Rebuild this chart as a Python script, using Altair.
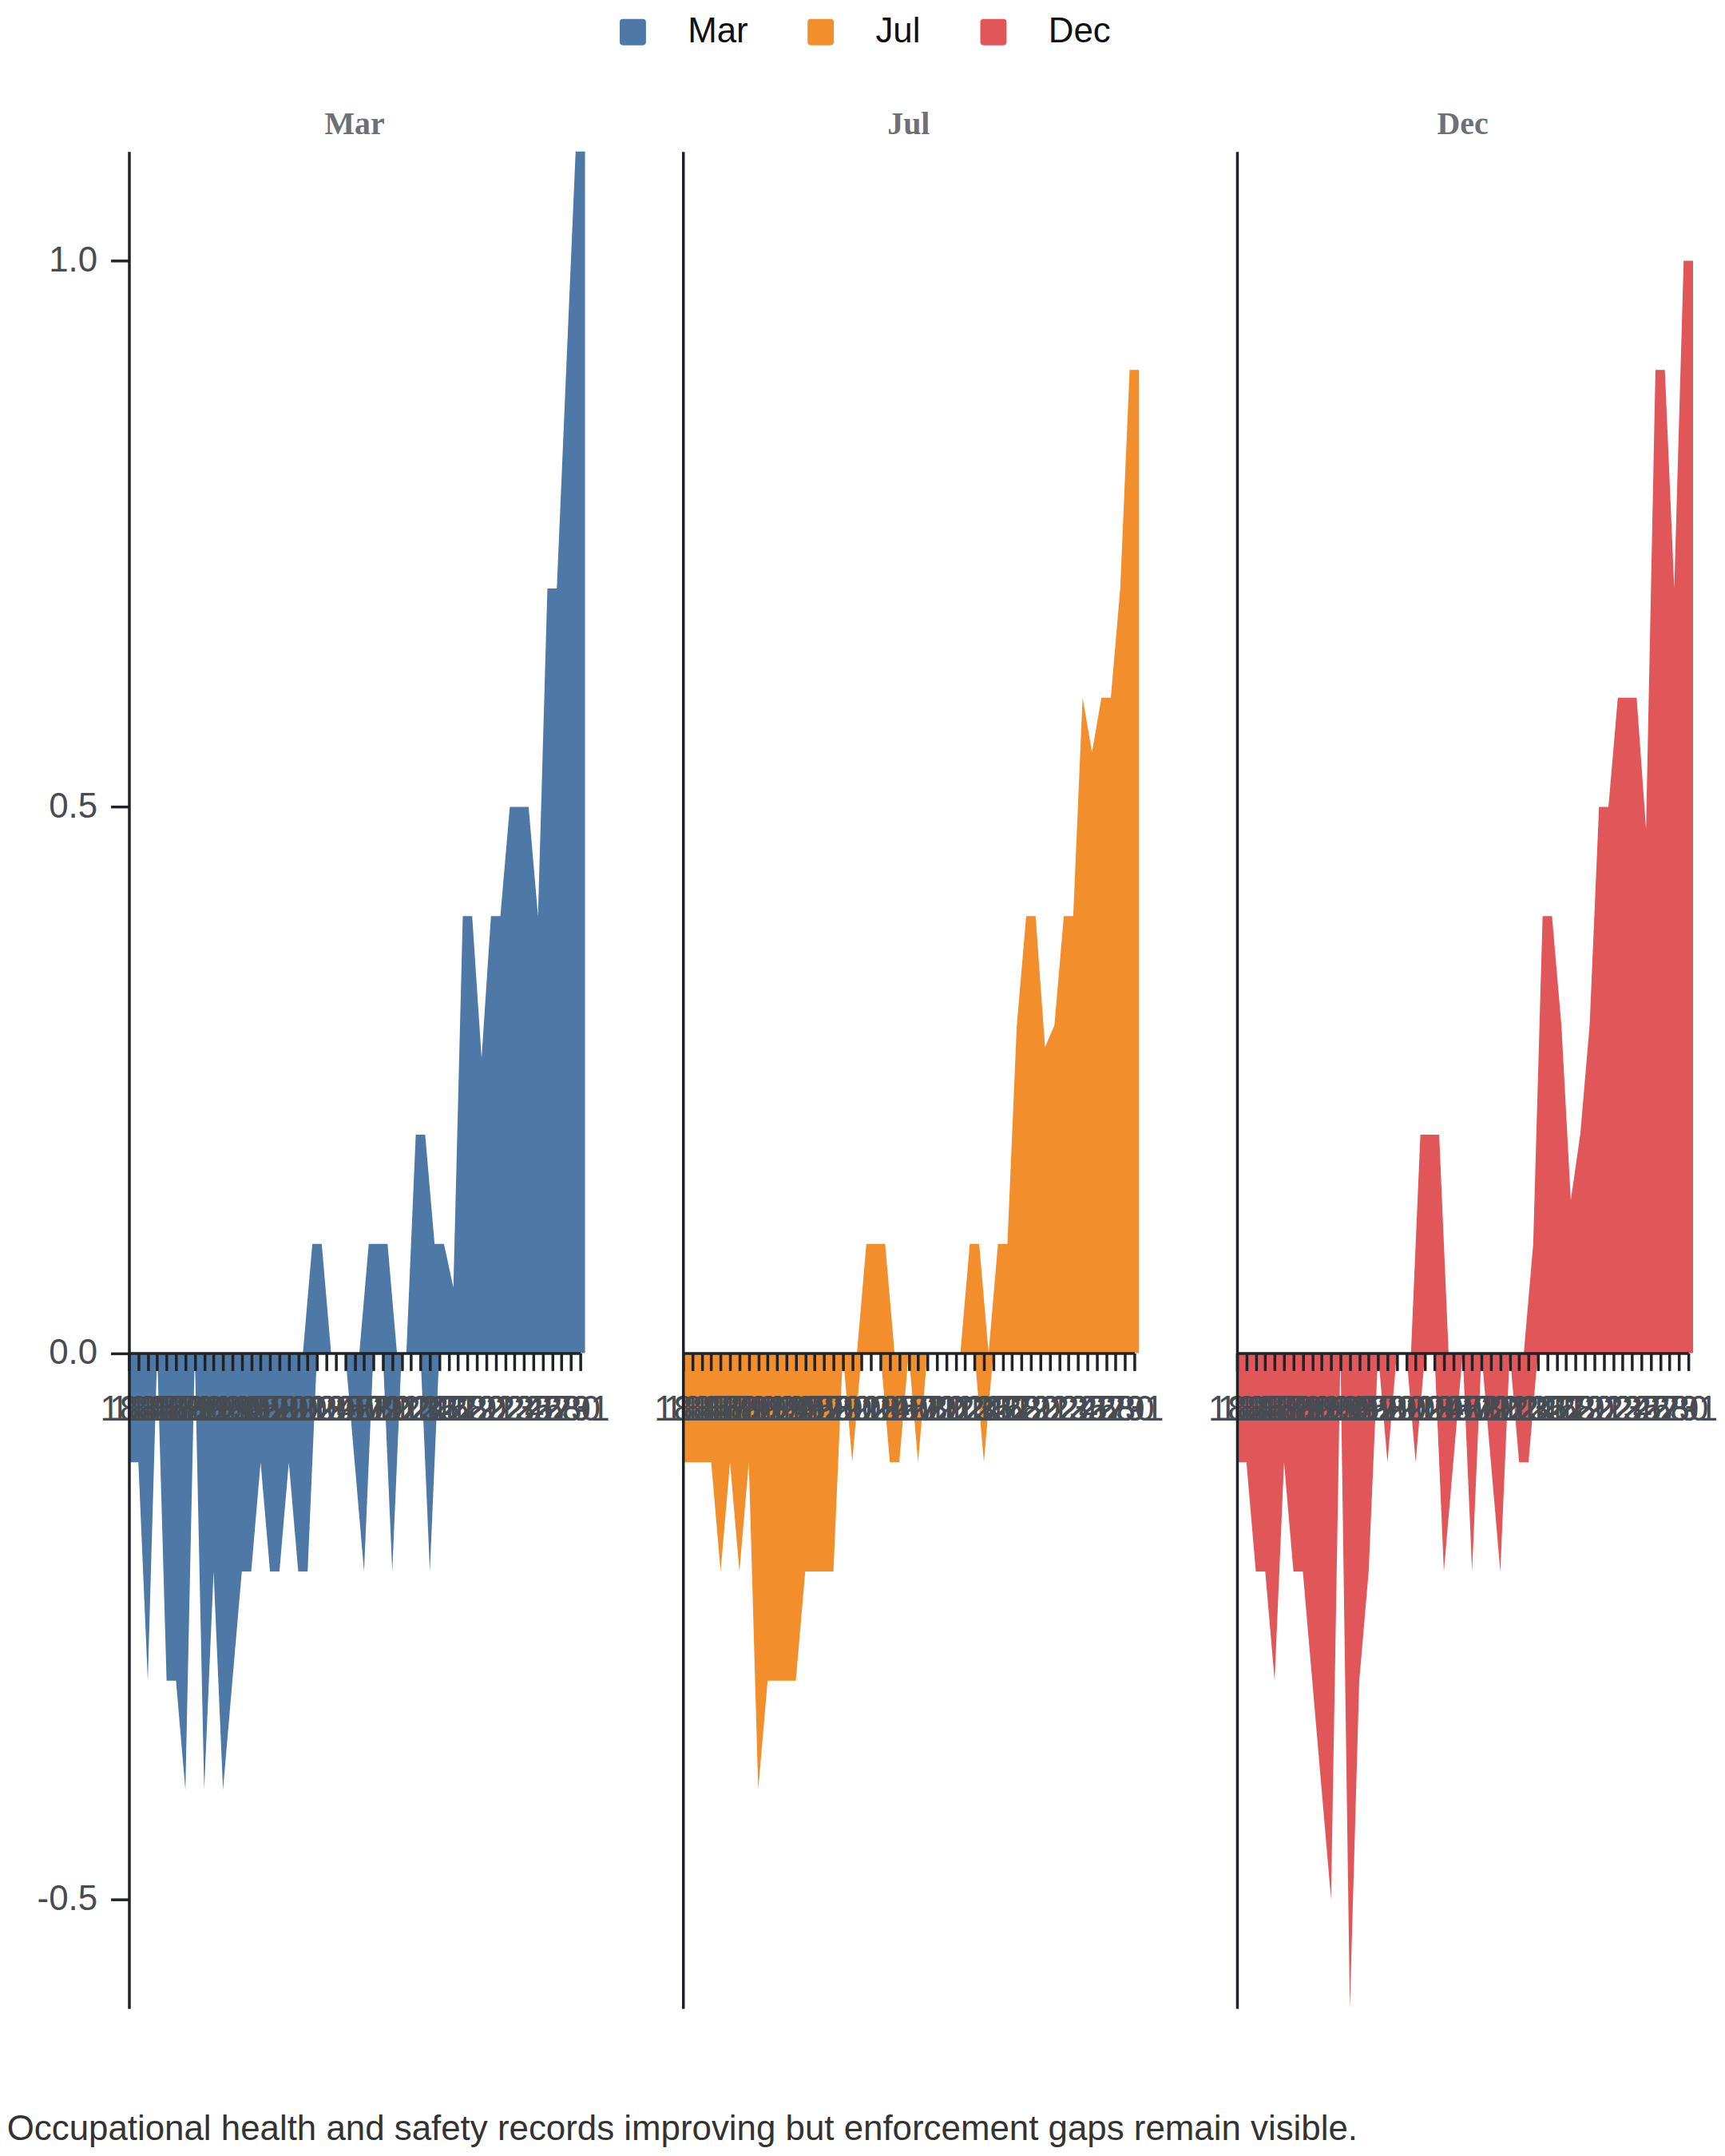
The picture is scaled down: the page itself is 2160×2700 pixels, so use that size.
import altair as alt
import pandas as pd

months = ["Mar", "Jul", "Dec"]
colors = ["#4e79a7", "#f28e2b", "#e15759"]

days = [183, 184, 185, 186, 187, 188, 189, 190, 191, 192,
        193, 194, 195, 196, 197, 198, 199, 200, 201, 202,
        203, 204, 205, 206, 207, 208, 209, 210, 211, 212,
        213, 214, 215, 216, 217, 218, 219, 220, 221, 222,
        223, 224, 225, 226, 227, 228, 229, 230, 231]

# lower envelope (read at the ticks)
mar_low = [-0.1, -0.1, -0.3, 0.0, -0.3, -0.3, -0.4, 0.0, -0.4, -0.2,
           -0.4, -0.3, -0.2, -0.2, -0.1, -0.2, -0.2, -0.1, -0.2, -0.2,
           0.0, 0.0, 0.0, 0.0, -0.1, -0.2, 0.0, 0.0, -0.2, 0.0,
           0.0, 0.0, -0.2, 0.0, 0.0, 0.0, 0.0, 0.0, 0.0, 0.0,
           0.0, 0.0, 0.0, 0.0, 0.0, 0.0, 0.7, 0.85, 1.0]
jul_low = [-0.1, -0.1, -0.1, -0.1, -0.2, -0.1, -0.2, -0.1, -0.4, -0.3,
           -0.3, -0.3, -0.3, -0.2, -0.2, -0.2, -0.2, 0.0, -0.1, 0.0,
           0.0, 0.0, -0.1, -0.1, 0.0, -0.1, 0.0, 0.0, 0.0, 0.0,
           0.0, 0.0, -0.1, 0.0, 0.0, 0.0, 0.0, 0.0, 0.0, 0.0,
           0.0, 0.0, 0.0, 0.0, 0.0, 0.0, 0.0, 0.0, 0.8]
dec_low = [-0.1, -0.1, -0.2, -0.2, -0.3, -0.1, -0.2, -0.2, -0.3, -0.4,
           -0.5, 0.0, -0.6, -0.3, -0.2, 0.0, -0.1, 0.0, 0.0, -0.1,
           0.0, 0.0, -0.2, -0.1, 0.0, -0.2, 0.0, -0.1, -0.2, 0.0,
           -0.1, -0.1, 0.0, 0.0, 0.0, 0.0, 0.0, 0.0, 0.0, 0.0,
           0.0, 0.0, 0.0, 0.0, 0.0, 0.0, 0.0, 0.0, 0.86]

# upper envelope (read half a step to the right of the ticks)
mar_high = [0.0, 0.0, 0.0, 0.0, 0.0, 0.0, 0.0, 0.0, 0.0, 0.0,
            0.0, 0.0, 0.0, 0.0, 0.0, 0.0, 0.0, 0.0, 0.0, 0.1,
            0.1, 0.0, 0.0, 0.0, 0.0, 0.1, 0.1, 0.1, 0.0, 0.0,
            0.2, 0.2, 0.1, 0.1, 0.06, 0.4, 0.4, 0.27, 0.4, 0.4,
            0.5, 0.5, 0.5, 0.4, 0.7, 0.7, 0.9, 1.1, 1.1]
jul_high = [0.0, 0.0, 0.0, 0.0, 0.0, 0.0, 0.0, 0.0, 0.0, 0.0,
            0.0, 0.0, 0.0, 0.0, 0.0, 0.0, 0.0, 0.0, 0.0, 0.1,
            0.1, 0.1, 0.0, 0.0, 0.0, 0.0, 0.0, 0.0, 0.0, 0.0,
            0.1, 0.1, 0.0, 0.1, 0.1, 0.3, 0.4, 0.4, 0.28, 0.3,
            0.4, 0.4, 0.6, 0.55, 0.6, 0.6, 0.7, 0.9, 0.9]
dec_high = [0.0, 0.0, 0.0, 0.0, 0.0, 0.0, 0.0, 0.0, 0.0, 0.0,
            0.0, 0.0, 0.0, 0.0, 0.0, 0.0, 0.0, 0.0, 0.0, 0.2,
            0.2, 0.2, 0.0, 0.0, 0.0, 0.0, 0.0, 0.0, 0.0, 0.0,
            0.0, 0.1, 0.4, 0.4, 0.3, 0.14, 0.2, 0.3, 0.5, 0.5,
            0.6, 0.6, 0.6, 0.48, 0.9, 0.9, 0.7, 1.0, 1.0]

y_ticks = [-0.5, 0.0, 0.5, 1.0]
caption = "Occupational health and safety records improving but enforcement gaps remain visible."

rows = []
for m, low, high in [("Mar", mar_low, mar_high), ("Jul", jul_low, jul_high), ("Dec", dec_low, dec_high)]:
    for d, lo, hi in zip(days, low, high):
        rows.append({"day": d, "month": m, "part": "low", "value": lo})
        rows.append({"day": d, "month": m, "part": "high", "value": hi})
df = pd.DataFrame(rows)

W, H = 567, 2333
Y_MIN, Y_MAX = -0.6, 1.1
zero_offset = -H * (0 - Y_MIN) / (Y_MAX - Y_MIN)
half_step = W / (len(days) - 1) / 2

rounded = ("M -0.75 -1 L 0.75 -1 Q 1 -1 1 -0.75 L 1 0.75 Q 1 1 0.75 1 "
           "L -0.75 1 Q -1 1 -1 0.75 L -1 -0.75 Q -1 -1 -0.75 -1 Z")

legend = alt.Legend(orient="none", legendX=611, legendY=-172, direction="horizontal",
                    title=None, labelFontSize=44, labelFont="Liberation Sans",
                    labelColor="#111111", symbolType=rounded, symbolSize=1089,
                    symbolStrokeWidth=0, symbolOpacity=1, labelOffset=47,
                    columnPadding=69, padding=0)
color = alt.Color("month:N", scale=alt.Scale(domain=months, range=colors), legend=legend)

x_axis = alt.Axis(orient="bottom", offset=zero_offset, zindex=1, labelAngle=0,
                  labelOverlap=False, labelFlush=False, tickSize=22, tickWidth=3.5,
                  domainWidth=3.5, labelPadding=27, labelFontSize=44,
                  labelFont="Liberation Sans", labelColor="#474c53",
                  domainColor="#1f2226", tickColor="#1f2226", title=None, grid=False)
x_enc = alt.X("day:O", scale=alt.Scale(type="point", padding=0, domain=days), axis=x_axis)


def y_enc(first):
    if first:
        ax = alt.Axis(values=y_ticks, labelExpr="replace(format(datum.value, '.1f'), '\u2212', '-')",
                      tickSize=23, tickWidth=3.5, domainWidth=3.5, labelPadding=17,
                      labelFontSize=44, labelFont="Liberation Sans", labelColor="#474c53",
                      domainColor="#1f2226", tickColor="#1f2226", title=None, grid=False, zindex=1)
    else:
        ax = alt.Axis(values=y_ticks, labels=False, ticks=False, domainWidth=3.5,
                      domainColor="#1f2226", title=None, grid=False, zindex=1)
    return alt.Y("value:Q", scale=alt.Scale(domain=[Y_MIN, Y_MAX], nice=False, zero=False),
                 axis=ax, stack=False)


def panel(m, first):
    base = alt.Chart(df).transform_filter(alt.datum.month == m)
    low = base.transform_filter(alt.datum.part == "low").mark_area(opacity=1).encode(
        x=x_enc, y=y_enc(first), color=color)
    high = base.transform_filter(alt.datum.part == "high").mark_area(
        opacity=1, xOffset=half_step).encode(x=x_enc, y=y_enc(first), color=color)
    return alt.layer(low, high).properties(
        width=W, height=H,
        title=alt.TitleParams(m, font="Liberation Serif", fontWeight="bold", fontSize=40,
                              color="#6d7075", anchor="middle", offset=14))


chart = alt.hconcat(panel("Mar", True), panel("Jul", False), panel("Dec", False),
                    spacing=129, bounds="flush").properties(
    title=alt.TitleParams(caption, orient="bottom", anchor="start", fontSize=44,
                          font="Liberation Sans", fontWeight="normal", color="#333333",
                          offset=130, dx=-37),
    padding={"top": 6, "left": 0, "right": 0, "bottom": 0},
).configure_view(stroke="transparent")

chart.save("out.html", embed_options={"renderer": "svg", "actions": False})
